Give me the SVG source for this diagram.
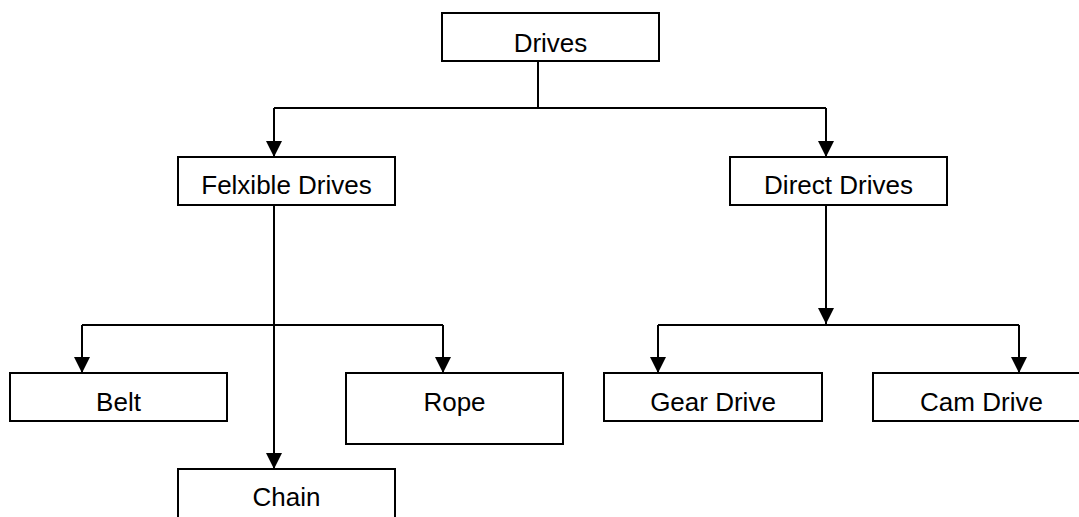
<svg xmlns="http://www.w3.org/2000/svg" width="1079" height="517" viewBox="0 0 1079 517">
<defs>
<style>
.box{fill:#fff;stroke:#000;stroke-width:2}
.lbl{font-family:"Liberation Sans",Arial,sans-serif;font-size:26px;fill:#000;text-anchor:middle}
.ln{fill:none;stroke:#000;stroke-width:2}
.ar{fill:none;stroke:#000;stroke-width:2;marker-end:url(#ah)}
</style>
<marker id="ah" markerUnits="userSpaceOnUse" markerWidth="16" markerHeight="16" viewBox="0 0 16 16" refX="16" refY="8" orient="auto">
<path d="M0,0 L16,8 L0,16 Z" fill="#000"/>
</marker>
</defs>
<rect width="1079" height="517" fill="#fff"/>
<g id="connectors">
<path class="ln" d="M538,61 V108 M274,108 H826"/>
<path class="ar" d="M274,108 V157"/>
<path class="ar" d="M826,108 V157"/>
<path class="ar" d="M274,205 V469"/>
<path class="ln" d="M82,325 H443"/>
<path class="ar" d="M82,325 V373"/>
<path class="ar" d="M443,325 V373"/>
<path class="ar" d="M826,205 V324"/>
<path class="ln" d="M658,325 H1019"/>
<path class="ar" d="M658,325 V373"/>
<path class="ar" d="M1019,325 V373"/>
</g>
<g id="drives"><rect class="box" x="442" y="13" width="217" height="48"/><text class="lbl" x="550.5" y="52">Drives</text></g>
<g id="flexible"><rect class="box" x="178" y="157" width="217" height="48"/><text class="lbl" x="286.5" y="194">Felxible Drives</text></g>
<g id="direct"><rect class="box" x="730" y="157" width="217" height="48"/><text class="lbl" x="838.5" y="194">Direct Drives</text></g>
<g id="belt"><rect class="box" x="10" y="373" width="217" height="48"/><text class="lbl" x="118.5" y="411">Belt</text></g>
<g id="rope"><rect class="box" x="346" y="373" width="217" height="71"/><text class="lbl" x="454.5" y="411">Rope</text></g>
<g id="chain"><rect class="box" x="178" y="469" width="217" height="60"/><text class="lbl" x="286.5" y="506">Chain</text></g>
<g id="gear"><rect class="box" x="604" y="373" width="218" height="48"/><text class="lbl" x="713" y="411">Gear Drive</text></g>
<g id="cam"><rect class="box" x="873" y="373" width="217" height="48"/><text class="lbl" x="981.5" y="411">Cam Drive</text></g>
</svg>
